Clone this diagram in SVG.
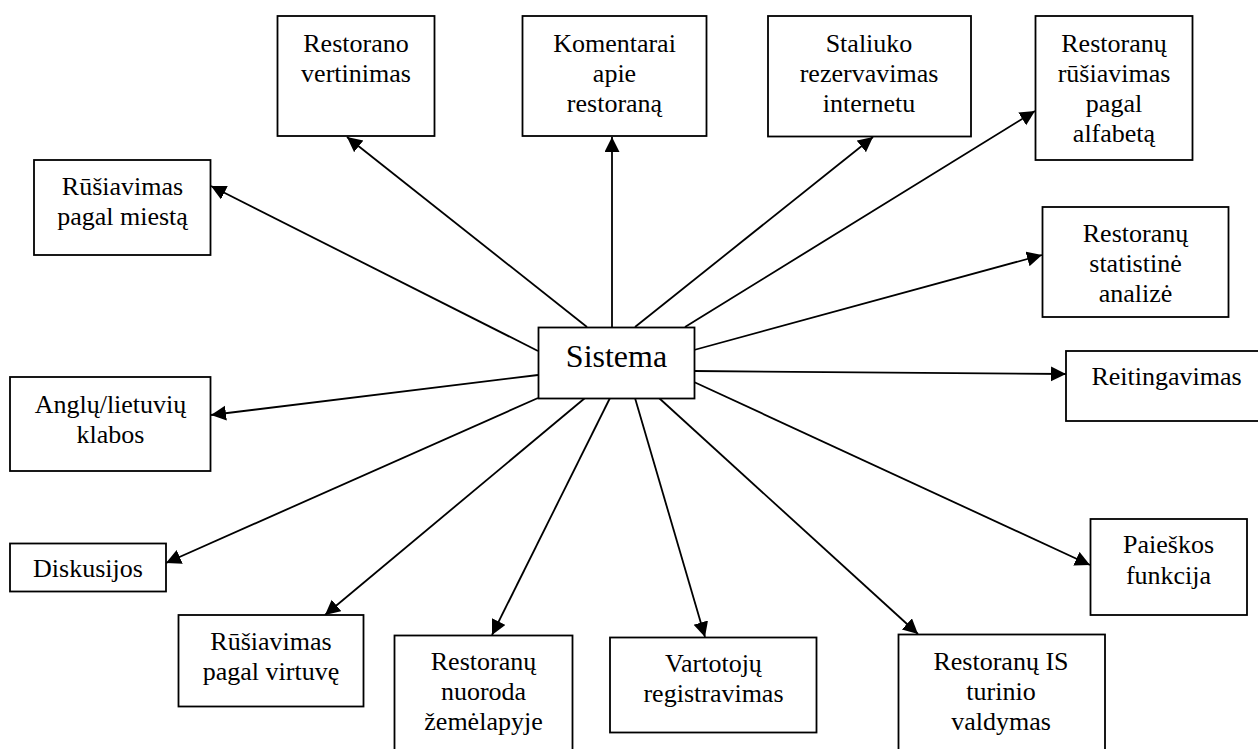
<svg xmlns="http://www.w3.org/2000/svg" width="1258" height="749" viewBox="0 0 1258 749">
  <style>
    .box { fill: #ffffff; stroke: #000000; stroke-width: 1.8; }
    .lbl { font-family: 'Liberation Serif', 'Times New Roman', Times, 'DejaVu Serif', serif; font-size: 26px; fill: #000000; text-anchor: middle; }
    .main { font-size: 32px; }
    .link { stroke: #000000; stroke-width: 1.8; fill: none; marker-end: url(#arrow); }
  </style>
  <defs>
    <marker id="arrow" markerUnits="userSpaceOnUse" markerWidth="17" markerHeight="17" refX="15" refY="7.5" orient="auto">
      <path d="M0,0 L15,7.5 L0,15 Z" fill="#000000"/>
    </marker>
  </defs>
  <rect width="1258" height="749" fill="#ffffff"/>

  <!-- connectors from the central system box -->
  <g id="connectors">
    <line class="link" x1="538" y1="351" x2="211" y2="186"/>
    <line class="link" x1="587" y1="327" x2="347" y2="137"/>
    <line class="link" x1="612" y1="327" x2="612" y2="137"/>
    <line class="link" x1="635" y1="327" x2="873" y2="137"/>
    <line class="link" x1="685" y1="327" x2="1035" y2="111"/>
    <line class="link" x1="694" y1="350" x2="1042" y2="255"/>
    <line class="link" x1="694" y1="371" x2="1066" y2="374"/>
    <line class="link" x1="694" y1="382" x2="1090" y2="565"/>
    <line class="link" x1="659" y1="398" x2="918" y2="634"/>
    <line class="link" x1="635" y1="398" x2="705" y2="637"/>
    <line class="link" x1="610" y1="398" x2="492" y2="635"/>
    <line class="link" x1="585" y1="398" x2="325" y2="615"/>
    <line class="link" x1="538" y1="398" x2="166" y2="563"/>
    <line class="link" x1="538" y1="375" x2="211" y2="415"/>
  </g>

  <g id="sistema">
    <rect class="box" x="538.5" y="327.5" width="156" height="71"/>
    <text class="lbl main" x="616.5" y="367">Sistema</text>
  </g>

  <g id="restorano-vertinimas">
    <rect class="box" x="277.5" y="16" width="157" height="120"/>
    <text class="lbl" x="356" y="52">Restorano</text>
    <text class="lbl" x="356" y="82">vertinimas</text>
  </g>

  <g id="komentarai">
    <rect class="box" x="522.5" y="16" width="184" height="120"/>
    <text class="lbl" x="614.5" y="52">Komentarai</text>
    <text class="lbl" x="614.5" y="82">apie</text>
    <text class="lbl" x="614.5" y="112">restoraną</text>
  </g>

  <g id="staliuko-rezervavimas">
    <rect class="box" x="768" y="16" width="203" height="120.5"/>
    <text class="lbl" x="869" y="52">Staliuko</text>
    <text class="lbl" x="869" y="82">rezervavimas</text>
    <text class="lbl" x="869" y="112">internetu</text>
  </g>

  <g id="rusiavimas-alfabeta">
    <rect class="box" x="1035.5" y="16" width="157" height="144"/>
    <text class="lbl" x="1114" y="52">Restoranų</text>
    <text class="lbl" x="1114" y="82">rūšiavimas</text>
    <text class="lbl" x="1114" y="112">pagal</text>
    <text class="lbl" x="1114" y="142">alfabetą</text>
  </g>

  <g id="statistine-analize">
    <rect class="box" x="1042.5" y="207" width="186" height="110"/>
    <text class="lbl" x="1135.5" y="242">Restoranų</text>
    <text class="lbl" x="1135.5" y="272">statistinė</text>
    <text class="lbl" x="1135.5" y="302">analizė</text>
  </g>

  <g id="reitingavimas">
    <rect class="box" x="1066" y="351" width="201" height="70"/>
    <text class="lbl" x="1166.5" y="385">Reitingavimas</text>
  </g>

  <g id="paieskos-funkcija">
    <rect class="box" x="1090.5" y="519" width="156.5" height="96"/>
    <text class="lbl" x="1168.5" y="553">Paieškos</text>
    <text class="lbl" x="1168.5" y="584">funkcija</text>
  </g>

  <g id="turinio-valdymas">
    <rect class="box" x="898.5" y="634.5" width="206.5" height="130"/>
    <text class="lbl" x="1001" y="670">Restoranų IS</text>
    <text class="lbl" x="1001" y="700">turinio</text>
    <text class="lbl" x="1001" y="730">valdymas</text>
  </g>

  <g id="vartotoju-registravimas">
    <rect class="box" x="610" y="637.5" width="206.5" height="95"/>
    <text class="lbl" x="713.5" y="672">Vartotojų</text>
    <text class="lbl" x="713.5" y="702">registravimas</text>
  </g>

  <g id="nuoroda-zemelapyje">
    <rect class="box" x="394.5" y="635.5" width="178" height="130"/>
    <text class="lbl" x="483.5" y="670">Restoranų</text>
    <text class="lbl" x="483.5" y="700">nuoroda</text>
    <text class="lbl" x="483.5" y="730">žemėlapyje</text>
  </g>

  <g id="rusiavimas-virtuve">
    <rect class="box" x="178.5" y="615" width="185" height="91.5"/>
    <text class="lbl" x="271" y="650">Rūšiavimas</text>
    <text class="lbl" x="271" y="680">pagal virtuvę</text>
  </g>

  <g id="diskusijos">
    <rect class="box" x="10" y="543.5" width="156" height="48"/>
    <text class="lbl" x="88" y="577">Diskusijos</text>
  </g>

  <g id="kalbos">
    <rect class="box" x="10" y="377" width="200.5" height="94"/>
    <text class="lbl" x="110.5" y="413">Anglų/lietuvių</text>
    <text class="lbl" x="110.5" y="443">klabos</text>
  </g>

  <g id="rusiavimas-miesta">
    <rect class="box" x="34" y="160" width="176.5" height="95"/>
    <text class="lbl" x="122.5" y="195">Rūšiavimas</text>
    <text class="lbl" x="122.5" y="225">pagal miestą</text>
  </g>
</svg>
